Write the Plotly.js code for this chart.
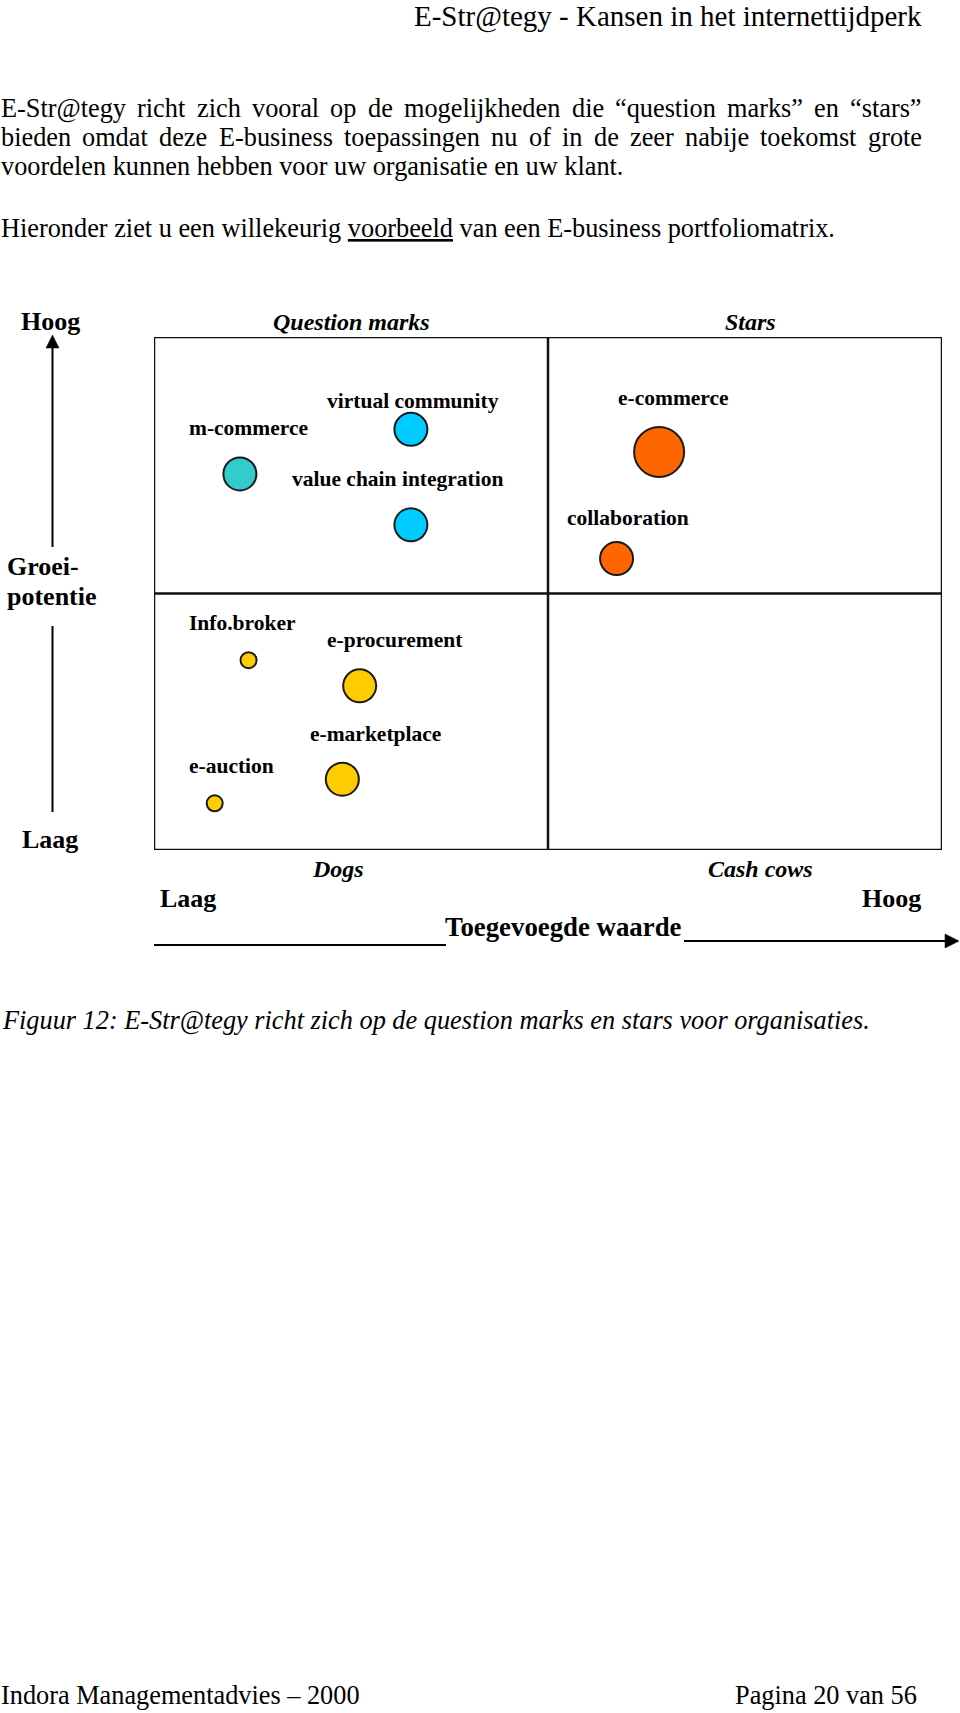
<!DOCTYPE html>
<html>
<head>
<meta charset="utf-8">
<script src="https://cdn.plot.ly/plotly-3.0.1.min.js"></script>
<style>
html,body{margin:0;padding:0;background:#fff;}
#chart{width:960px;height:1713px;}
</style>
</head>
<body>
<div id="chart"></div>
<script>
// ---------- DATA ----------
const items = ['m-commerce', 'virtual community', 'value chain integration', 'e-commerce', 'collaboration',
               'Info.broker', 'e-procurement', 'e-marketplace', 'e-auction'];
const addedValue = [1.09, 3.26, 3.26, 6.41, 5.87, 1.20, 2.61, 2.39, 0.77];   // Toegevoegde waarde (0-10)
const growth     = [7.33, 8.20, 6.34, 7.76, 5.68, 3.70, 3.20, 1.38, 0.91];   // Groeipotentie (0-10)
const weight     = [2, 2, 2, 3, 2, 1, 2, 2, 1];                              // relatieve omvang
const quadrantNames = ['Question marks', 'Stars', 'Dogs', 'Cash cows'];
const axisLow = 'Laag';
const axisHigh = 'Hoog';
const yAxisName = ['Groei-', 'potentie'];
const xAxisName = 'Toegevoegde waarde';
const headerText = 'E-Str@tegy - Kansen in het internettijdperk';
const bodyLines = [
  'E-Str@tegy richt zich vooral op de mogelijkheden die \u201Cquestion marks\u201D en \u201Cstars\u201D',
  'bieden omdat deze E-business toepassingen nu of in de zeer nabije toekomst grote',
  'voordelen kunnen hebben voor uw organisatie en uw klant.'
];
const introLine = ['Hieronder ziet u een willekeurig ', 'voorbeeld', ' van een E-business portfoliomatrix.'];
const captionText = 'Figuur 12: E-Str@tegy richt zich op de question marks en stars voor organisaties.';
const footerLeft = 'Indora Managementadvies \u2013 2000';
const footerRight = 'Pagina 20 van 56';

// ---------- STYLE ----------
const W = 960, H = 1713;
const px = x => x / W;
const py = y => 1 - y / H;
const SERIF = '"Liberation Serif", "Times New Roman", serif';
const INK = '#000000';
const colorOf = {
  'm-commerce': '#33CCCC',
  'virtual community': '#00CCFF', 'value chain integration': '#00CCFF',
  'e-commerce': '#FF6600', 'collaboration': '#FF6600',
  'Info.broker': '#FFCC00', 'e-procurement': '#FFCC00', 'e-marketplace': '#FFCC00', 'e-auction': '#FFCC00'
};
const sizeOf = w => ({1: 16, 2: 33, 3: 50})[w];
// label offsets (px) relative to bubble centre
const labelOffset = {
  'm-commerce': [9, -46], 'virtual community': [2, -28], 'value chain integration': [-13, -46],
  'e-commerce': [14, -54], 'collaboration': [11, -41], 'Info.broker': [-6, -37],
  'e-procurement': [35, -46], 'e-marketplace': [33, -45], 'e-auction': [17, -37]
};

const annotations = [];
function txt(text, x, y, size, xanchor, extra) {
  annotations.push(Object.assign({
    xref: 'paper', yref: 'paper', x: px(x), y: py(y), text: text,
    showarrow: false, xanchor: xanchor || 'left', yanchor: 'middle',
    borderpad: 0, borderwidth: 0,
    font: {family: SERIF, size: size, color: INK}
  }, extra || {}));
}

const BODY = 26.3;
const ctx = document.createElement('canvas').getContext('2d');
ctx.font = BODY + 'px "Liberation Serif"';
function justified(line, y, left, right) {
  const words = line.split(' ');
  const ws = words.map(w => ctx.measureText(w).width);
  const gap = (right - left - ws.reduce((a, b) => a + b, 0)) / (words.length - 1);
  let x = left;
  words.forEach((w, i) => { txt(w, x, y, BODY, 'left'); x += ws[i] + gap; });
}

// header
txt(headerText, 922, 16, 29, 'right');
// body
justified(bodyLines[0], 108, 1, 922);
justified(bodyLines[1], 137.7, 1, 922);
txt(bodyLines[2], 1, 167, BODY, 'left');
txt(introLine[0] + '<u>' + introLine[1] + '</u>' + introLine[2], 1, 228.5, BODY, 'left');

// quadrant names
txt('<b><i>' + quadrantNames[0] + '</i></b>', 351, 322, 24, 'center');
txt('<b><i>' + quadrantNames[1] + '</i></b>', 750, 322, 24, 'center');
txt('<b><i>' + quadrantNames[2] + '</i></b>', 338, 869, 24, 'center');
txt('<b><i>' + quadrantNames[3] + '</i></b>', 760, 869, 24, 'center');

// y axis texts
txt('<b>' + axisHigh + '</b>', 50.5, 321, 26, 'center');
txt('<b>' + yAxisName[0] + '</b>', 7, 566.5, 26, 'left');
txt('<b>' + yAxisName[1] + '</b>', 7, 596, 26, 'left');
txt('<b>' + axisLow + '</b>', 49.5, 839.5, 26, 'center');

// x axis texts
txt('<b>' + axisLow + '</b>', 160, 898, 26, 'left');
txt('<b>' + axisHigh + '</b>', 920.5, 898, 26, 'right');
txt('<b>' + xAxisName + '</b>', 563.5, 927.5, 26.8, 'center');

// caption & footer
txt('<i>' + captionText + '</i>', 2, 1020, BODY, 'left');
txt(footerLeft, 1, 1695, BODY, 'left');
txt(footerRight, 917, 1695, BODY, 'right');

// bubble labels
items.forEach((name, i) => {
  const off = labelOffset[name];
  annotations.push({
    xref: 'x', yref: 'y', x: addedValue[i], y: growth[i],
    xshift: off[0], yshift: -off[1],
    text: '<b>' + name + '</b>', showarrow: false,
    xanchor: 'center', yanchor: 'middle', borderpad: 0, borderwidth: 0,
    font: {family: SERIF, size: 21.5, color: INK}
  });
});

// shapes
const LINE = {color: '#111111', width: 2.5};
const shapes = [
  {type: 'rect', xref: 'x', yref: 'y', x0: 0, x1: 10, y0: 0, y1: 10, line: LINE, layer: 'below'},
  {type: 'line', xref: 'x', yref: 'y', x0: 5, x1: 5, y0: 0, y1: 10, line: LINE, layer: 'below'},
  {type: 'line', xref: 'x', yref: 'y', x0: 0, x1: 10, y0: 5, y1: 5, line: LINE, layer: 'below'},
  // vertical axis arrow
  {type: 'line', xref: 'paper', yref: 'paper', x0: px(52.5), x1: px(52.5), y0: py(547), y1: py(346), line: {color: INK, width: 2}},
  {type: 'path', xref: 'paper', yref: 'paper',
   path: `M ${px(52.5)} ${py(335)} L ${px(59)} ${py(348)} L ${px(46)} ${py(348)} Z`,
   fillcolor: INK, line: {color: INK, width: 0.5}},
  {type: 'line', xref: 'paper', yref: 'paper', x0: px(52.5), x1: px(52.5), y0: py(626), y1: py(812), line: {color: INK, width: 2}},
  // horizontal axis arrow
  {type: 'line', xref: 'paper', yref: 'paper', x0: px(154), x1: px(446), y0: py(945), y1: py(945), line: {color: INK, width: 2}},
  {type: 'line', xref: 'paper', yref: 'paper', x0: px(684), x1: px(947), y0: py(941), y1: py(941), line: {color: INK, width: 2}},
  {type: 'path', xref: 'paper', yref: 'paper',
   path: `M ${px(959)} ${py(941)} L ${px(945)} ${py(934)} L ${px(945)} ${py(948)} Z`,
   fillcolor: INK, line: {color: INK, width: 0.5}}
];

const trace = {
  type: 'scatter', mode: 'markers',
  x: addedValue, y: growth, text: items, hoverinfo: 'text',
  cliponaxis: false,
  marker: {
    size: weight.map(sizeOf),
    color: items.map(n => colorOf[n]),
    opacity: 1,
    line: {color: '#1a1a1a', width: 2}
  }
};

const layout = {
  width: W, height: H,
  margin: {l: 0, r: 0, t: 0, b: 0},
  paper_bgcolor: '#ffffff', plot_bgcolor: 'rgba(0,0,0,0)',
  showlegend: false,
  xaxis: {domain: [154 / W, 942 / W], range: [0, 10], visible: false, fixedrange: true},
  yaxis: {domain: [1 - 850 / H, 1 - 337 / H], range: [0, 10], visible: false, fixedrange: true},
  annotations: annotations,
  shapes: shapes
};

Plotly.newPlot('chart', [trace], layout, {displayModeBar: false, staticPlot: true});
</script>
</body>
</html>
